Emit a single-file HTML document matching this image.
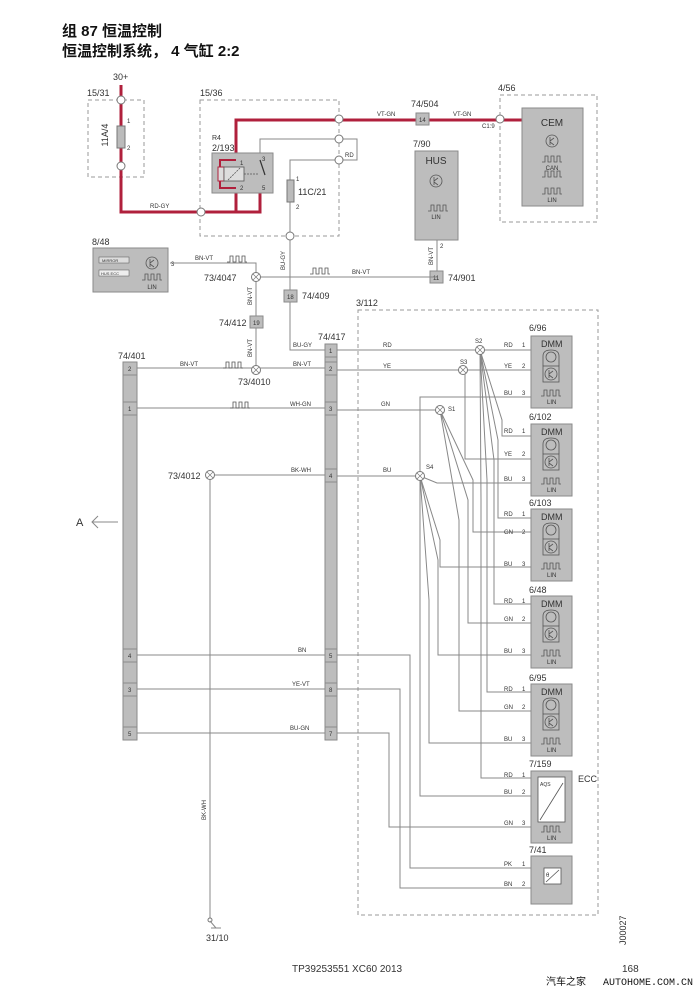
<!DOCTYPE html>
<html><head><meta charset="utf-8"><style>
html,body{margin:0;padding:0;background:#fff}
svg{display:block}
text{font-family:"Liberation Sans","Noto Sans CJK SC",sans-serif;fill:#333}
.w{stroke:#888;stroke-width:1;fill:none}
.r{stroke:#b0203c;stroke-width:3;fill:none}
.d{stroke:#999;stroke-width:1;fill:none;stroke-dasharray:4 3}
.bx{fill:#bdbdbd;stroke:#8a8a8a;stroke-width:1}
.s{font-size:6px}
.m{font-size:9px}
</style></head><body>
<svg width="700" height="990" viewBox="0 0 700 990" xmlns="http://www.w3.org/2000/svg">
<defs>
<g id="pulse"><path d="M0 6 H3 V0 H6 V6 H9 V0 H12 V6 H15 V0 H18 V6 H20" stroke="#555" fill="none" stroke-width="0.8"/></g>
<g id="tr"><circle cx="0" cy="0" r="6" fill="none" stroke="#555" stroke-width="0.8"/><path d="M-2 -4 V4 M-2 0 L2 -3 M-2 1 L2 4" stroke="#555" fill="none" stroke-width="0.8"/></g>
<g id="dmmicon"><path d="M-8 22 V12 Q-8 6 0 6 Q8 6 8 12 V22" stroke="#555" fill="none" stroke-width="0.8"/><circle cx="0" cy="13" r="5" fill="none" stroke="#555" stroke-width="0.8"/><rect x="-8" y="22" width="16" height="16" fill="none" stroke="#555" stroke-width="0.8"/><use href="#tr" x="0" y="30" transform=""/></g>
<g id="sp"><circle r="4.5" fill="#fff" stroke="#777"/><path d="M-3 -3 L3 3 M-3 3 L3 -3" stroke="#777" stroke-width="0.7"/></g>
</defs>

<!-- Title -->
<text x="62" y="36" style="font-size:15px;font-weight:bold;fill:#111">组 87 恒温控制</text>
<text x="62" y="56" style="font-size:15px;font-weight:bold;fill:#111">恒温控制系统， 4 气缸 2:2</text>

<!-- 15/31 -->
<text x="113" y="80" class="m">30+</text>
<text x="87" y="96" class="m">15/31</text>
<rect x="88" y="100" width="56" height="77" class="d"/>
<!-- 15/36 -->
<text x="200" y="96" class="m">15/36</text>
<rect x="200" y="100" width="139" height="136" class="d"/>
<!-- red wires -->
<path class="r" d="M121 85 V212 H260 V193"/>
<path class="r" d="M236 212 V120 H523"/>
<rect x="117" y="126" width="8" height="22" fill="#bbb" stroke="#777"/>
<text x="108" y="135" class="m" transform="rotate(-90 108 135)" text-anchor="middle">11A/4</text>
<text x="127" y="123" class="s">1</text><text x="127" y="150" class="s">2</text>
<circle cx="121" cy="100" r="4" fill="#fff" stroke="#777"/>
<circle cx="121" cy="166" r="4" fill="#fff" stroke="#777"/>
<circle cx="201" cy="212" r="4" fill="#fff" stroke="#777"/>
<text x="150" y="208" class="s">RD-GY</text>
<!-- R4 -->
<text x="212" y="140" class="s" style="font-size:7px">R4</text>
<text x="212" y="151" class="m">2/193</text>
<rect x="212" y="153" width="61" height="40" class="bx"/>
<path class="r" d="M236 160 H220 V188 H236" style="stroke-width:2"/>
<rect x="218" y="167" width="6" height="14" fill="#ddd" stroke="#b0203c"/>
<rect x="224" y="167" width="20" height="14" fill="#ddd" stroke="#555" stroke-width="0.8"/>
<path d="M228 180 L240 168 M244 174 H258" stroke="#555" stroke-width="0.8" fill="none" stroke-dasharray="2 1"/>
<path d="M260 160 L265 175" stroke="#333" stroke-width="1.2"/>
<text x="240" y="165" class="s">1</text><text x="240" y="190" class="s">2</text>
<text x="262" y="161" class="s">3</text><text x="262" y="190" class="s">5</text>
<!-- gray relay wires -->
<path class="w" d="M260 153 V139 H357 V160 H339"/>
<path class="w" d="M339 160 H290 V236 V296"/>
<rect x="287" y="180" width="7" height="22" fill="#bbb" stroke="#777"/>
<text x="298" y="195" class="m">11C/21</text>
<text x="296" y="181" class="s">1</text><text x="296" y="209" class="s">2</text>
<text x="345" y="157" class="s">RD</text>
<text x="377" y="116" class="s">VT-GN</text>
<text x="453" y="116" class="s">VT-GN</text>
<circle cx="339" cy="119" r="4" fill="#fff" stroke="#777"/>
<circle cx="339" cy="139" r="4" fill="#fff" stroke="#777"/>
<circle cx="339" cy="160" r="4" fill="#fff" stroke="#777"/>
<circle cx="290" cy="236" r="4" fill="#fff" stroke="#777"/>
<!-- 74/504 -->
<text x="411" y="107" class="m">74/504</text>
<rect x="416" y="113" width="13" height="12" class="bx"/><text x="419" y="122" class="s">14</text>
<!-- 4/56 CEM -->
<text x="498" y="91" class="m">4/56</text>
<rect x="500" y="95" width="97" height="127" class="d"/>
<circle cx="500" cy="119" r="4" fill="#fff" stroke="#777"/>
<text x="482" y="128" class="s">C1:9</text>
<rect x="522" y="108" width="61" height="98" class="bx"/>
<text x="552" y="126" text-anchor="middle" style="font-size:10px">CEM</text>
<use href="#tr" x="552" y="141"/>
<use href="#pulse" x="542" y="156"/>
<text x="552" y="170" text-anchor="middle" class="s">CAN</text>
<use href="#pulse" x="542" y="171"/>
<use href="#pulse" x="542" y="188"/>
<text x="552" y="202" text-anchor="middle" class="s">LIN</text>
<!-- HUS -->
<text x="413" y="147" class="m">7/90</text>
<rect x="415" y="151" width="43" height="89" class="bx"/>
<text x="436" y="164" text-anchor="middle" style="font-size:10px">HUS</text>
<use href="#tr" x="436" y="181"/>
<use href="#pulse" x="428" y="205" transform=""/>
<text x="436" y="219" text-anchor="middle" class="s">LIN</text>
<path class="w" d="M437 240 V271"/>
<text x="440" y="248" class="s">2</text>
<text x="433" y="265" class="s" transform="rotate(-90 433 265)">BN-VT</text>
<rect x="430" y="271" width="13" height="12" class="bx"/><text x="433" y="280" class="s">11</text>
<text x="448" y="281" class="m">74/901</text>
<!-- 8/48 -->
<text x="92" y="245" class="m">8/48</text>
<rect x="93" y="248" width="75" height="44" class="bx"/>
<rect x="99" y="257" width="30" height="6" fill="#ddd" stroke="#555" stroke-width="0.5"/><text x="102" y="262" style="font-size:4px">MIRROR</text>
<rect x="99" y="270" width="30" height="6" fill="#eee" stroke="#555" stroke-width="0.5"/><text x="101" y="275" style="font-size:4px">HUS ECC</text>
<use href="#tr" x="152" y="263"/>
<use href="#pulse" x="142" y="274"/>
<text x="152" y="289" text-anchor="middle" class="s">LIN</text>
<text x="171" y="266" class="s">3</text>
<path class="w" d="M170 263 H256 V368"/>
<path class="w" d="M256 277 H437"/>
<text x="195" y="260" class="s">BN-VT</text>
<use href="#pulse" x="227" y="256" transform=""/>
<use href="#pulse" x="310" y="268"/>
<text x="352" y="274" class="s">BN-VT</text>
<use href="#sp" x="256" y="277"/>
<text x="204" y="281" class="m">73/4047</text>
<text x="285" y="270" class="s" transform="rotate(-90 285 270)">BU-GY</text>
<rect x="284" y="290" width="13" height="12" class="bx"/><text x="287" y="299" class="s">18</text>
<text x="302" y="299" class="m">74/409</text>
<text x="252" y="305" class="s" transform="rotate(-90 252 305)">BN-VT</text>
<rect x="250" y="316" width="13" height="12" class="bx"/><text x="253" y="325" class="s">19</text>
<text x="219" y="326" class="m">74/412</text>
<text x="252" y="357" class="s" transform="rotate(-90 252 357)">BN-VT</text>
<path class="w" d="M290 302 V350 H325"/>
<text x="293" y="347" class="s">BU-GY</text>
<!-- connectors -->
<text x="118" y="359" class="m">74/401</text>
<text x="318" y="340" class="m">74/417</text>
<rect x="123" y="362" width="14" height="378" class="bx"/>
<rect x="325" y="344" width="12" height="396" class="bx"/>
<g class="s">
<rect x="123" y="362" width="14" height="13" class="bx"/><text x="128" y="371">2</text>
<rect x="123" y="402" width="14" height="13" class="bx"/><text x="128" y="411">1</text>
<rect x="123" y="649" width="14" height="13" class="bx"/><text x="128" y="658">4</text>
<rect x="123" y="683" width="14" height="13" class="bx"/><text x="128" y="692">3</text>
<rect x="123" y="727" width="14" height="13" class="bx"/><text x="128" y="736">5</text>
<rect x="325" y="344" width="12" height="13" class="bx"/><text x="329" y="353">1</text>
<rect x="325" y="362" width="12" height="13" class="bx"/><text x="329" y="371">2</text>
<rect x="325" y="402" width="12" height="13" class="bx"/><text x="329" y="411">3</text>
<rect x="325" y="469" width="12" height="13" class="bx"/><text x="329" y="478">4</text>
<rect x="325" y="649" width="12" height="13" class="bx"/><text x="329" y="658">5</text>
<rect x="325" y="683" width="12" height="13" class="bx"/><text x="329" y="692">8</text>
<rect x="325" y="727" width="12" height="13" class="bx"/><text x="329" y="736">7</text>
</g>
<path class="w" d="M137 368 H325 M137 408 H325 M210 475 H325 M137 655 H325 M137 689 H325 M137 733 H325"/>
<path class="w" d="M210 475 V918"/>
<use href="#sp" x="256" y="370"/>
<text x="238" y="385" class="m">73/4010</text>
<use href="#sp" x="210" y="475"/>
<text x="168" y="479" class="m">73/4012</text>
<text x="180" y="366" class="s">BN-VT</text><use href="#pulse" x="223" y="362"/>
<text x="293" y="366" class="s">BN-VT</text>
<use href="#pulse" x="230" y="402"/>
<text x="290" y="406" class="s">WH-GN</text>
<text x="291" y="472" class="s">BK-WH</text>
<text x="298" y="652" class="s">BN</text>
<text x="292" y="686" class="s">YE-VT</text>
<text x="290" y="730" class="s">BU-GN</text>
<text x="206" y="820" class="s" transform="rotate(-90 206 820)">BK-WH</text>
<circle cx="210" cy="920" r="2" fill="#fff" stroke="#777"/>
<path class="w" d="M210 921 L216 928 M211 928 H221"/>
<text x="206" y="941" class="m">31/10</text>
<text x="76" y="526" style="font-size:11px">A</text>
<path class="w" d="M92 522 H118 M98 516 L92 522 L98 528"/>
<!-- 3/112 -->
<text x="356" y="306" class="m">3/112</text>
<rect x="358" y="310" width="240" height="605" class="d"/>
<!-- right components -->
<g>
<text x="529" y="331" class="m">6/96</text><rect x="531" y="336" width="41" height="72" class="bx"/>
<text x="529" y="420" class="m">6/102</text><rect x="531" y="424" width="41" height="72" class="bx"/>
<text x="529" y="506" class="m">6/103</text><rect x="531" y="509" width="41" height="72" class="bx"/>
<text x="529" y="593" class="m">6/48</text><rect x="531" y="596" width="41" height="72" class="bx"/>
<text x="529" y="681" class="m">6/95</text><rect x="531" y="684" width="41" height="72" class="bx"/>
<text x="529" y="767" class="m">7/159</text><rect x="531" y="771" width="41" height="72" class="bx"/>
<text x="529" y="853" class="m">7/41</text><rect x="531" y="856" width="41" height="48" class="bx"/>
</g>
<g style="font-size:9px">
<text x="541" y="347">DMM</text><text x="541" y="435">DMM</text><text x="541" y="520">DMM</text><text x="541" y="607">DMM</text><text x="541" y="695">DMM</text>
</g>
<use href="#dmmicon" x="551" y="344"/><use href="#pulse" x="541" y="390"/><text x="547" y="404" class="s">LIN</text>
<use href="#dmmicon" x="551" y="432"/><use href="#pulse" x="541" y="478"/><text x="547" y="492" class="s">LIN</text>
<use href="#dmmicon" x="551" y="517"/><use href="#pulse" x="541" y="563"/><text x="547" y="577" class="s">LIN</text>
<use href="#dmmicon" x="551" y="604"/><use href="#pulse" x="541" y="650"/><text x="547" y="664" class="s">LIN</text>
<use href="#dmmicon" x="551" y="692"/><use href="#pulse" x="541" y="738"/><text x="547" y="752" class="s">LIN</text>
<rect x="538" y="777" width="27" height="45" fill="#fff" stroke="#555" stroke-width="0.8"/>
<path d="M540 820 L563 783" stroke="#555" stroke-width="0.8"/>
<text x="540" y="786" style="font-size:5px">AQS</text>
<use href="#pulse" x="541" y="826"/><text x="547" y="840" class="s">LIN</text>
<text x="578" y="782" class="m">ECC</text>
<rect x="544" y="868" width="17" height="16" fill="#fff" stroke="#555" stroke-width="0.8"/>
<path d="M546 882 L559 870" stroke="#555" stroke-width="0.8"/>
<text x="546" y="877" style="font-size:6px">θ</text>
<!-- wires into 3/112 -->
<path class="w" d="M337 350 H531 M337 370 H531 M337 410 H440 M337 476 H420"/>
<path class="w" d="M337 655 H410 V868 H531 M337 689 H400 V888 H531 M337 733 H389 V827 H531"/>
<!-- S2 fan -->
<path class="w" d="M480 350 L502 420 V436 H531 M480 350 L498 440 V518 H531 M480 350 L494 460 V604 H531 M480 350 L487 480 V692 H531 M480 350 L481 500 V778 H531"/>
<!-- S3 -->
<path class="w" d="M465 370 V459 H531"/>
<!-- S1 fan -->
<path class="w" d="M440 410 L473 480 V532 H531 M440 410 L468 500 V623 H531 M440 410 L459 520 V711 H531"/>
<!-- S4 fan -->
<path class="w" d="M420 476 V397 H531 M420 476 L437 483 H531 M420 476 L440 540 V567 H531 M420 476 L438 560 V655 H531 M420 476 L429 600 V743 H531 M420 476 V796 H531"/>
<use href="#sp" x="480" y="350"/><text x="475" y="343" class="s">S2</text>
<use href="#sp" x="463" y="370"/><text x="460" y="364" class="s">S3</text>
<use href="#sp" x="440" y="410"/><text x="448" y="411" class="s">S1</text>
<use href="#sp" x="420" y="476"/><text x="426" y="469" class="s">S4</text>
<g class="s">
<text x="383" y="347">RD</text><text x="383" y="368">YE</text><text x="381" y="406">GN</text><text x="383" y="472">BU</text>
<text x="504" y="347">RD</text><text x="522" y="347">1</text><text x="504" y="368">YE</text><text x="522" y="368">2</text><text x="504" y="395">BU</text><text x="522" y="395">3</text>
<text x="504" y="433">RD</text><text x="522" y="433">1</text><text x="504" y="456">YE</text><text x="522" y="456">2</text><text x="504" y="481">BU</text><text x="522" y="481">3</text>
<text x="504" y="516">RD</text><text x="522" y="516">1</text><text x="504" y="534">GN</text><text x="522" y="534">2</text><text x="504" y="566">BU</text><text x="522" y="566">3</text>
<text x="504" y="603">RD</text><text x="522" y="603">1</text><text x="504" y="621">GN</text><text x="522" y="621">2</text><text x="504" y="653">BU</text><text x="522" y="653">3</text>
<text x="504" y="691">RD</text><text x="522" y="691">1</text><text x="504" y="709">GN</text><text x="522" y="709">2</text><text x="504" y="741">BU</text><text x="522" y="741">3</text>
<text x="504" y="777">RD</text><text x="522" y="777">1</text><text x="504" y="794">BU</text><text x="522" y="794">2</text><text x="504" y="825">GN</text><text x="522" y="825">3</text>
<text x="504" y="866">PK</text><text x="522" y="866">1</text><text x="504" y="886">BN</text><text x="522" y="886">2</text>
</g>
<!-- footer -->
<text x="626" y="945" class="m" transform="rotate(-90 626 945)">J00027</text>
<text x="292" y="972" style="font-size:10px">TP39253551 XC60 2013</text>
<text x="622" y="972" style="font-size:10px">168</text>
<text x="546" y="985" style="font-size:10px;fill:#111">汽车之家</text>
<text x="603" y="985" style="font-size:10px;fill:#111;font-family:'Liberation Mono',monospace">AUTOHOME.COM.CN</text>
</svg>
</body></html>
